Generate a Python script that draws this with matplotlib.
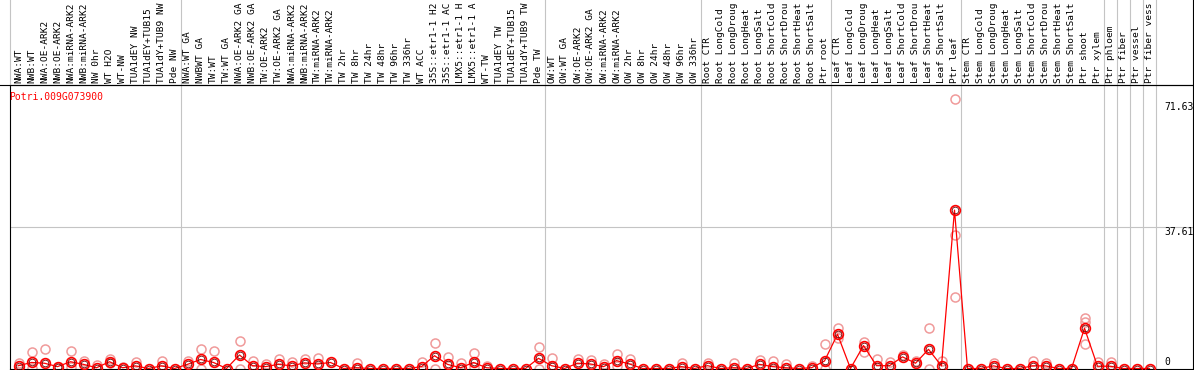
import numpy as np
import matplotlib
matplotlib.use("Agg")
import matplotlib.pyplot as plt
from matplotlib.lines import Line2D

nan = np.nan

labels = [
    "NWA:WT", "NWB:WT", "NWA:OE-ARK2", "NWB:OE-ARK2", "NWA:miRNA-ARK2", "NWB:miRNA-ARK2",
    "NW 0hr", "WT H2O", "WT-NW", "TUA1dEY NW", "TUA1dEY+TUB15 NW", "TUA1dY+TUB9 NW", "Pde NW",
    "NWA:WT GA", "NWBWT GA", "TW:WT", "TW:WT GA", "NWA:OE-ARK2 GA", "NWB:OE-ARK2 GA",
    "TW:OE-ARK2", "TW:OE-ARK2 GA", "NWA:miRNA-ARK2", "NWB:miRNA-ARK2", "TW:miRNA-ARK2",
    "TW:miRNA-ARK2", "TW 2hr", "TW 8hr", "TW 24hr", "TW 48hr", "TW 96hr", "TW 336hr",
    "WT ACC", "35S::etr1-1 H2O", "35S::etr1-1 ACC", "LMX5::etr1-1 H2O", "LMX5::etr1-1 ACC",
    "WT-TW", "TUA1dEY TW", "TUA1dEY+TUB15 TW", "TUA1dY+TUB9 TW", "Pde TW",
    "OW:WT", "OW:WT GA", "OW:OE-ARK2", "OW:OE-ARK2 GA", "OW:miRNA-ARK2", "OW:miRNA-ARK2",
    "OW 2hr", "OW 8hr", "OW 24hr", "OW 48hr", "OW 96hr", "OW 336hr",
    "Root CTR", "Root LongCold", "Root LongDrought", "Root LongHeat", "Root LongSalt",
    "Root ShortCold", "Root ShortDrought", "Root ShortHeat", "Root ShortSalt", "Ptr root",
    "Leaf CTR", "Leaf LongCold", "Leaf LongDrought", "Leaf LongHeat", "Leaf LongSalt",
    "Leaf ShortCold", "Leaf ShortDrought", "Leaf ShortHeat", "Leaf ShortSalt", "Ptr leaf",
    "Stem CTR", "Stem LongCold", "Stem LongDrought", "Stem LongHeat", "Stem LongSalt",
    "Stem ShortCold", "Stem ShortDrought", "Stem ShortHeat", "Stem ShortSalt", "Ptr shoot",
    "Ptr xylem", "Ptr phloem", "Ptr fiber", "Ptr vessel", "Ptr fiber vessel",
]

means = [
    0.75, 1.6, 1.4, 0.5, 1.8, 1.1, 0.2, 1.8, 0.2, 0.7, 0.0, 0.7, 0.0,
    1.1, 2.4, 1.6, 0.0, 3.6, 0.75, 0.5, 1.1, 0.7, 1.5, 1.2, 1.6, 0.0, 0.2, 0.0, 0.0,
    0.0, 0.0, 0.5, 3.4, 1.1, 0.2, 1.6, 0.2, 0.0, 0.0, 0.0, 2.7,
    0.75, 0.0, 1.4, 1.2, 0.5, 2.1, 1.2, 0.0, 0.0, 0.0, 0.5, 0.0,
    0.75, 0.0, 0.2, 0.0, 1.1, 0.5, 0.2, 0.0, 0.2, 2.0,
    9.1, 0.0, 6.1, 0.75, 0.75, 3.1, 1.4, 5.1, 0.7, 42.1,
    0.0, 0.0, 0.7, 0.0, 0.0, 0.7, 0.7, 0.0, 0.0, 10.7,
    0.6, 0.6, 0.0, 0.0, 0.0,
]

rep_a = [
    1.4, 4.3, 5.2, 0.5, 4.6, 2.1, 0.9, 2.5, 0.5, 1.6, nan, 2.1, nan,
    2.0, 5.2, 4.6, nan, 7.3, 2.1, 1.1, 2.5, 1.6, 2.6, 2.8, nan, nan, 1.4, nan, nan,
    nan, nan, 1.8, 6.7, 3.1, 1.4, 4.0, 0.75, nan, nan, nan, 5.6,
    2.9, nan, 2.6, 2.2, 1.1, 3.8, 2.5, nan, nan, nan, 1.5, nan,
    1.4, nan, 1.4, nan, 2.2, 2.1, 1.1, nan, 0.75, 6.5,
    10.8, nan, 7.0, 2.4, 1.8, 3.6, 1.9, 10.7, 2.0, 71.63,
    nan, nan, 1.5, nan, nan, 1.9, 1.4, nan, nan, 13.3,
    1.7, 1.7, nan, nan, nan,
]

rep_b = [nan] * 88
for i, v in {0: 0.0, 1: 0.2, 4: 0.5, 7: 1.4, 14: 0.0, 17: 0.0, 32: 0.0, 35: 0.5,
             40: 0.0, 46: 0.75, 62: 0.0, 63: 8.2, 65: 4.3, 70: 0.0, 72: 35.5,
             82: 12.4}.items():
    rep_b[i] = v

rep_c = [nan] * 88
for i, v in {72: 18.9, 82: 6.5}.items():
    rep_c[i] = v

group_breaks = [12, 40, 52, 62, 72, 83, 84, 85, 86, 87]
title = "Potri.009G073900"
max_label_chars = 14   # the header only has room for 14 characters

W, H = 1194, 370
fig = plt.figure(figsize=(W / 100, H / 100), dpi=100)
mono = "DejaVu Sans Mono"

x = np.arange(len(labels))
x0px, dx = 18.5, 13.0
xl = ((10 - x0px) / dx, (1193 - x0px) / dx)

# main plot axes
ax = fig.add_axes([10 / W, 1 / H, 1183 / W, 284 / H])
scale = (368.5 - 99) / 71.63
ax.set_xlim(*xl)
ax.set_ylim(-0.5 / scale, (368.5 - 85) / scale)
ax.set_xticks([])
ax.set_yticks([])
for s in ax.spines.values():
    s.set_color("black")
    s.set_linewidth(0.8)

gray = "#c4c4c4"
for b in group_breaks:
    ax.axvline(b + 0.5, color=gray, lw=0.8, zorder=0)
ax.axhline(37.61, color=gray, lw=0.8, zorder=0)

pale = "#f09a9a"
for rep in (rep_a, rep_b, rep_c):
    ax.plot(x, rep, ls="none", marker="o", ms=6.5, mfc="none", mec=pale, mew=1.1, zorder=2)

ax.plot(x, means, color="red", lw=0.9, zorder=3)
ax.plot(x, means, ls="none", marker="o", ms=7, mfc="none", mec="red", mew=1.2, zorder=4)
ax.plot(x, means, ls="none", marker="o", ms=4.8, mfc="none", mec="#6a0000", mew=0.6, zorder=5)

# header axes
hx = fig.add_axes([10 / W, 285 / H, 1183 / W, 85 / H])
hx.set_xlim(*xl)
hx.set_ylim(85, 0)
hx.set_xticks([])
hx.set_yticks([])
hx.patch.set_alpha(0)
hx.spines["top"].set_visible(False)
hx.spines["bottom"].set_visible(False)
hx.spines["left"].set_color(gray)
hx.spines["right"].set_color("black")
hx.spines["left"].set_linewidth(0.8)
hx.spines["right"].set_linewidth(0.8)
for b in group_breaks:
    hx.axvline(b + 0.5, color=gray, lw=0.8)
for i, lab in enumerate(labels):
    hx.text(i, 83, lab[:max_label_chars], rotation=90, ha="center", va="bottom",
            fontsize=6.8, family=mono, clip_on=False)

fig.add_artist(Line2D([0, 1193 / W], [1 - 85 / H] * 2, color="black", lw=0.8,
                      transform=fig.transFigure))

fig.text(9 / W, 1 - 97 / H, title, color="red", ha="left", va="center",
         fontsize=7, family=mono)
fig.text(1164 / W, 1 - 102 / H, "71.63", ha="left", va="top", fontsize=7, family=mono)
fig.text(1164 / W, 1 - 227 / H, "37.61", ha="left", va="top", fontsize=7, family=mono)
fig.text(1164 / W, 1 - 362 / H, "0", ha="left", va="center", fontsize=7, family=mono)

fig.savefig("out.png", dpi=100)
